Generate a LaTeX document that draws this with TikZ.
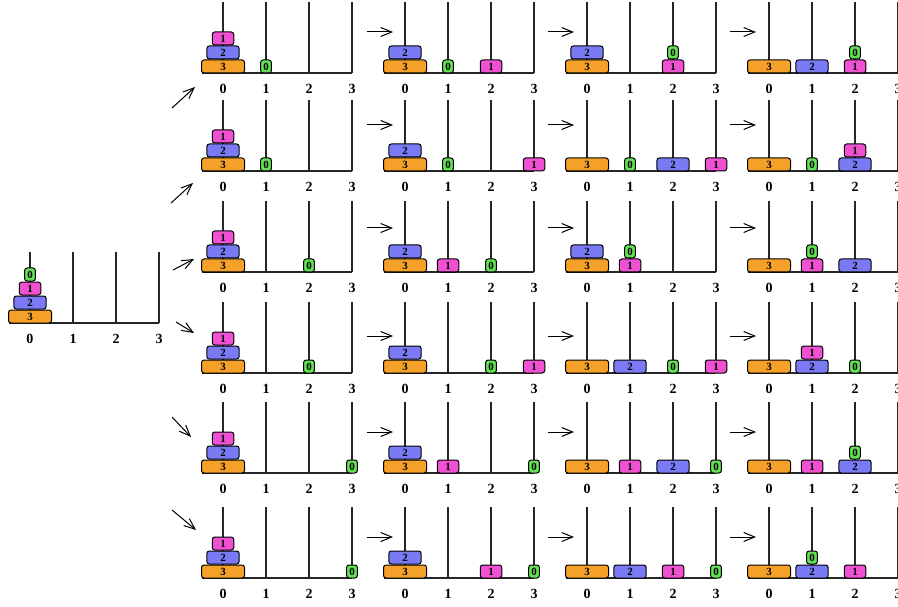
\documentclass[tikz,border=0pt]{standalone}
\usepackage{fontspec}
\setmainfont{Liberation Serif}
\usetikzlibrary{arrows.meta}
\definecolor{dk0}{RGB}{100,225,85}
\definecolor{dk1}{RGB}{240,80,210}
\definecolor{dk2}{RGB}{122,122,245}
\definecolor{dk3}{RGB}{245,160,40}
\tikzset{
  pegline/.style={line width=1.1pt, black!85},
  baseline/.style={line width=1.3pt, black!85},
  plabel/.style={font=\fontsize{14}{14}\selectfont\bfseries, inner sep=0pt},
  disk/.style={draw=black, line width=1pt, rounded corners=2.5pt, minimum height=13pt, inner sep=0pt,
    font=\fontsize{11}{11}\selectfont\bfseries},
  arr/.style={line width=1pt, -{Straight Barb[length=11pt,width=9pt]}},
}
% board: #1 name, #2 x of peg 0, #3 y of base
\newcommand\hboard[3]{%
  \draw[baseline] ({#2-21.5},#3) -- ({#2+129},#3);
  \foreach \p in {0,1,2,3} {
    \draw[pegline] ({#2+43*\p},#3) -- ++(0,-71);
    \node[plabel] (#1-l\p) at ({#2+43*\p},{#3+15.5}) {\p};
  }
}
% disk: #1 name, #2 x0, #3 yb, #4 disk, #5 peg, #6 level
\newcommand\hdisk[6]{%
  \pgfmathsetmacro\dw{(#4+1)*10.75}
  \node[disk, minimum width=\dw pt, fill=dk#4] (#1-d#4) at ({#2+43*#5},{#3-14*#6-6.5}) {#4};
}
\begin{document}
\begin{tikzpicture}[x=1pt,y=-1pt]
\useasboundingbox (0,0) rectangle (898,607);
\clip (0,0) rectangle (898,607);
% initial
\hboard{b0}{30}{323}
\hdisk{b0}{30}{323}{3}{0}{0}
\hdisk{b0}{30}{323}{2}{0}{1}
\hdisk{b0}{30}{323}{1}{0}{2}
\hdisk{b0}{30}{323}{0}{0}{3}
% Row 1
\hboard{r1c1}{223}{73}
\hdisk{r1c1}{223}{73}{3}{0}{0}\hdisk{r1c1}{223}{73}{2}{0}{1}\hdisk{r1c1}{223}{73}{1}{0}{2}\hdisk{r1c1}{223}{73}{0}{1}{0}
\hboard{r1c2}{405}{73}
\hdisk{r1c2}{405}{73}{3}{0}{0}\hdisk{r1c2}{405}{73}{2}{0}{1}\hdisk{r1c2}{405}{73}{0}{1}{0}\hdisk{r1c2}{405}{73}{1}{2}{0}
\hboard{r1c3}{587}{73}
\hdisk{r1c3}{587}{73}{3}{0}{0}\hdisk{r1c3}{587}{73}{2}{0}{1}\hdisk{r1c3}{587}{73}{1}{2}{0}\hdisk{r1c3}{587}{73}{0}{2}{1}
\hboard{r1c4}{769}{73}
\hdisk{r1c4}{769}{73}{3}{0}{0}\hdisk{r1c4}{769}{73}{2}{1}{0}\hdisk{r1c4}{769}{73}{1}{2}{0}\hdisk{r1c4}{769}{73}{0}{2}{1}
% Row 2
\hboard{r2c1}{223}{171}
\hdisk{r2c1}{223}{171}{3}{0}{0}\hdisk{r2c1}{223}{171}{2}{0}{1}\hdisk{r2c1}{223}{171}{1}{0}{2}\hdisk{r2c1}{223}{171}{0}{1}{0}
\hboard{r2c2}{405}{171}
\hdisk{r2c2}{405}{171}{3}{0}{0}\hdisk{r2c2}{405}{171}{2}{0}{1}\hdisk{r2c2}{405}{171}{0}{1}{0}\hdisk{r2c2}{405}{171}{1}{3}{0}
\hboard{r2c3}{587}{171}
\hdisk{r2c3}{587}{171}{3}{0}{0}\hdisk{r2c3}{587}{171}{0}{1}{0}\hdisk{r2c3}{587}{171}{2}{2}{0}\hdisk{r2c3}{587}{171}{1}{3}{0}
\hboard{r2c4}{769}{171}
\hdisk{r2c4}{769}{171}{3}{0}{0}\hdisk{r2c4}{769}{171}{0}{1}{0}\hdisk{r2c4}{769}{171}{2}{2}{0}\hdisk{r2c4}{769}{171}{1}{2}{1}
% Row 3
\hboard{r3c1}{223}{272}
\hdisk{r3c1}{223}{272}{3}{0}{0}\hdisk{r3c1}{223}{272}{2}{0}{1}\hdisk{r3c1}{223}{272}{1}{0}{2}\hdisk{r3c1}{223}{272}{0}{2}{0}
\hboard{r3c2}{405}{272}
\hdisk{r3c2}{405}{272}{3}{0}{0}\hdisk{r3c2}{405}{272}{2}{0}{1}\hdisk{r3c2}{405}{272}{1}{1}{0}\hdisk{r3c2}{405}{272}{0}{2}{0}
\hboard{r3c3}{587}{272}
\hdisk{r3c3}{587}{272}{3}{0}{0}\hdisk{r3c3}{587}{272}{2}{0}{1}\hdisk{r3c3}{587}{272}{1}{1}{0}\hdisk{r3c3}{587}{272}{0}{1}{1}
\hboard{r3c4}{769}{272}
\hdisk{r3c4}{769}{272}{3}{0}{0}\hdisk{r3c4}{769}{272}{1}{1}{0}\hdisk{r3c4}{769}{272}{0}{1}{1}\hdisk{r3c4}{769}{272}{2}{2}{0}
% Row 4
\hboard{r4c1}{223}{373}
\hdisk{r4c1}{223}{373}{3}{0}{0}\hdisk{r4c1}{223}{373}{2}{0}{1}\hdisk{r4c1}{223}{373}{1}{0}{2}\hdisk{r4c1}{223}{373}{0}{2}{0}
\hboard{r4c2}{405}{373}
\hdisk{r4c2}{405}{373}{3}{0}{0}\hdisk{r4c2}{405}{373}{2}{0}{1}\hdisk{r4c2}{405}{373}{0}{2}{0}\hdisk{r4c2}{405}{373}{1}{3}{0}
\hboard{r4c3}{587}{373}
\hdisk{r4c3}{587}{373}{3}{0}{0}\hdisk{r4c3}{587}{373}{2}{1}{0}\hdisk{r4c3}{587}{373}{0}{2}{0}\hdisk{r4c3}{587}{373}{1}{3}{0}
\hboard{r4c4}{769}{373}
\hdisk{r4c4}{769}{373}{3}{0}{0}\hdisk{r4c4}{769}{373}{2}{1}{0}\hdisk{r4c4}{769}{373}{1}{1}{1}\hdisk{r4c4}{769}{373}{0}{2}{0}
% Row 5
\hboard{r5c1}{223}{473}
\hdisk{r5c1}{223}{473}{3}{0}{0}\hdisk{r5c1}{223}{473}{2}{0}{1}\hdisk{r5c1}{223}{473}{1}{0}{2}\hdisk{r5c1}{223}{473}{0}{3}{0}
\hboard{r5c2}{405}{473}
\hdisk{r5c2}{405}{473}{3}{0}{0}\hdisk{r5c2}{405}{473}{2}{0}{1}\hdisk{r5c2}{405}{473}{1}{1}{0}\hdisk{r5c2}{405}{473}{0}{3}{0}
\hboard{r5c3}{587}{473}
\hdisk{r5c3}{587}{473}{3}{0}{0}\hdisk{r5c3}{587}{473}{1}{1}{0}\hdisk{r5c3}{587}{473}{2}{2}{0}\hdisk{r5c3}{587}{473}{0}{3}{0}
\hboard{r5c4}{769}{473}
\hdisk{r5c4}{769}{473}{3}{0}{0}\hdisk{r5c4}{769}{473}{1}{1}{0}\hdisk{r5c4}{769}{473}{2}{2}{0}\hdisk{r5c4}{769}{473}{0}{2}{1}
% Row 6
\hboard{r6c1}{223}{578}
\hdisk{r6c1}{223}{578}{3}{0}{0}\hdisk{r6c1}{223}{578}{2}{0}{1}\hdisk{r6c1}{223}{578}{1}{0}{2}\hdisk{r6c1}{223}{578}{0}{3}{0}
\hboard{r6c2}{405}{578}
\hdisk{r6c2}{405}{578}{3}{0}{0}\hdisk{r6c2}{405}{578}{2}{0}{1}\hdisk{r6c2}{405}{578}{1}{2}{0}\hdisk{r6c2}{405}{578}{0}{3}{0}
\hboard{r6c3}{587}{578}
\hdisk{r6c3}{587}{578}{3}{0}{0}\hdisk{r6c3}{587}{578}{2}{1}{0}\hdisk{r6c3}{587}{578}{1}{2}{0}\hdisk{r6c3}{587}{578}{0}{3}{0}
\hboard{r6c4}{769}{578}
\hdisk{r6c4}{769}{578}{3}{0}{0}\hdisk{r6c4}{769}{578}{2}{1}{0}\hdisk{r6c4}{769}{578}{0}{1}{1}\hdisk{r6c4}{769}{578}{1}{2}{0}
% diagonal arrows
\coordinate (s1) at (172,108); \coordinate (e1) at (195,87);
\coordinate (s2) at (171,203); \coordinate (e2) at (193,183);
\coordinate (s3) at (173,270); \coordinate (e3) at (194,259);
\coordinate (s4) at (176,322); \coordinate (e4) at (194,333);
\coordinate (s5) at (172,417); \coordinate (e5) at (191,437);
\coordinate (s6) at (172,510); \coordinate (e6) at (196,530);
\foreach \i in {1,...,6} { \draw[arr] (s\i) -- (e\i); }
% horizontal arrows
\foreach \r/\ya in {1/32,2/125,3/228,4/336,5/432,6/537} {
  \foreach \c/\xa in {1/367,2/548,3/730} {
    \coordinate (h\r-\c-s) at (\xa,\ya);
    \coordinate (h\r-\c-e) at (\xa+26,\ya);
    \draw[arr] (h\r-\c-s) -- (h\r-\c-e);
  }
}
\end{tikzpicture}
\end{document}
